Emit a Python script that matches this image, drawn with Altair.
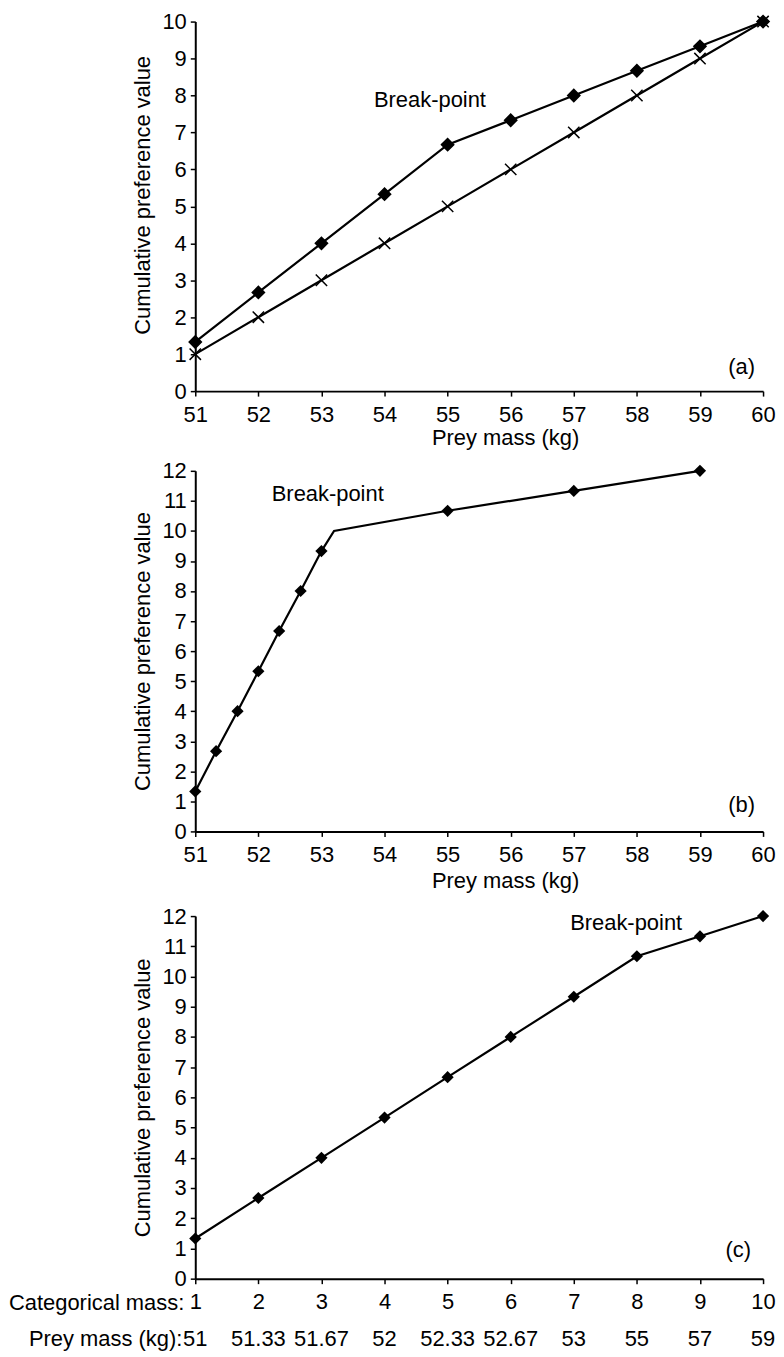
import altair as alt
import pandas as pd

# ---------------- data ----------------
# Panel (a)
a_mass = [51, 52, 53, 54, 55, 56, 57, 58, 59, 60]
a_pref = [1.33, 2.67, 4.0, 5.33, 6.67, 7.33, 8.0, 8.67, 9.33, 10.0]
a_linear = [1, 2, 3, 4, 5, 6, 7, 8, 9, 10]

# Panel (b)
b_mass = [51, 51.33, 51.67, 52, 52.33, 52.67, 53, 53.2, 55, 57, 59]
b_pref = [1.33, 2.67, 4.0, 5.33, 6.67, 8.0, 9.33, 10.0, 10.67, 11.33, 12.0]
b_marker = [True, True, True, True, True, True, True, False, True, True, True]

# Panel (c)
c_cat = [1, 2, 3, 4, 5, 6, 7, 8, 9, 10]
c_pref = [1.33, 2.67, 4.0, 5.33, 6.67, 8.0, 9.33, 10.67, 11.33, 12.0]
c_mass_labels = ["51", "51.33", "51.67", "52", "52.33", "52.67", "53", "55", "57", "59"]

x_ticks_mass = [51, 52, 53, 54, 55, 56, 57, 58, 59, 60]
y_ticks_10 = list(range(0, 11))
y_ticks_12 = list(range(0, 13))

# annotation anchors (data coordinates)
bp_a = (54.72, 7.88)
bp_b = (53.1, 11.24)
bp_c = (7.83, 11.77)

# ---------------- style ----------------
FONT = "Liberation Sans"
FS = 22
W = 570
HA, HB, HC = 371, 362, 364
X_SHAPE = "M-1,-1L1,1M1,-1L-1,1"
YTITLE = "Cumulative preference value"
DSIZE = 150


def y_axis(values, **kw):
    return alt.Axis(values=values, tickCount=len(values), format="d", title=YTITLE,
                    labelPadding=4, titlePadding=7, labelOverlap=False,
                    labelFontSize=FS, titleFontSize=FS, **kw)


def x_axis_mass(title_pad=3):
    return alt.Axis(values=x_ticks_mass, tickCount=len(x_ticks_mass), format="d",
                    title="Prey mass (kg)", labelPadding=8, titlePadding=title_pad,
                    titleX=311, labelFlush=False, labelOverlap=False,
                    labelFontSize=FS, titleFontSize=FS)


def text_mark(**kw):
    return alt.Chart().mark_text(font=FONT, fontSize=FS, color="black", **kw)


# ---------------- panel (a) ----------------
df_a = pd.DataFrame({
    "mass": a_mass * 2,
    "pref": a_pref + a_linear,
    "series": ["observed"] * len(a_mass) + ["linear"] * len(a_mass),
})
xa = alt.X("mass:Q", scale=alt.Scale(domain=[51, 60], nice=False, zero=False),
           axis=x_axis_mass())
ya = alt.Y("pref:Q", scale=alt.Scale(domain=[0, 10], nice=False),
           axis=y_axis(y_ticks_10, titleY=174))
base_a = alt.Chart(df_a)
lines_a = base_a.mark_line(color="black", strokeWidth=2.2).encode(
    x=xa, y=ya, detail="series:N")
pts_a = base_a.mark_point(filled=True, color="black", stroke="black",
                          strokeWidth=1.5, opacity=1).encode(
    x=xa, y=ya,
    shape=alt.Shape("series:N", legend=None,
                    scale=alt.Scale(domain=["observed", "linear"],
                                    range=["diamond", X_SHAPE])),
    size=alt.Size("series:N", legend=None,
                  scale=alt.Scale(domain=["observed", "linear"], range=[DSIZE, 130])),
)
bp_a_txt = text_mark().encode(x=alt.datum(bp_a[0]), y=alt.datum(bp_a[1]),
                              text=alt.value("Break-point"))
lab_a = text_mark(align="right").encode(x=alt.value(W - 8), y=alt.value(HA - 24),
                                        text=alt.value("(a)"))
panel_a = alt.layer(lines_a, pts_a, bp_a_txt, lab_a).properties(width=W, height=HA)

# ---------------- panel (b) ----------------
df_b = pd.DataFrame({"mass": b_mass, "pref": b_pref, "marker": b_marker})
xb = alt.X("mass:Q", scale=alt.Scale(domain=[51, 60], nice=False, zero=False),
           axis=x_axis_mass(title_pad=5))
yb = alt.Y("pref:Q", scale=alt.Scale(domain=[0, 12], nice=False),
           axis=y_axis(y_ticks_12))
base_b = alt.Chart(df_b)
lines_b = base_b.mark_line(color="black", strokeWidth=2.2).encode(x=xb, y=yb)
pts_b = base_b.transform_filter("datum.marker").mark_point(
    shape="diamond", filled=True, color="black", size=DSIZE, opacity=1).encode(x=xb, y=yb)
bp_b_txt = text_mark().encode(x=alt.datum(bp_b[0]), y=alt.datum(bp_b[1]),
                              text=alt.value("Break-point"))
lab_b = text_mark(align="right").encode(x=alt.value(W - 8), y=alt.value(HB - 26),
                                        text=alt.value("(b)"))
panel_b = alt.layer(lines_b, pts_b, bp_b_txt, lab_b).properties(width=W, height=HB)

# ---------------- panel (c) ----------------
df_c = pd.DataFrame({"cat": c_cat, "pref": c_pref, "mass_label": c_mass_labels})
xc = alt.X("cat:Q", scale=alt.Scale(domain=[1, 10], nice=False, zero=False),
           axis=alt.Axis(values=c_cat, tickCount=len(c_cat), format="d", title=None,
                         labelPadding=8, labelFlush=False, labelOverlap=False,
                         labelFontSize=FS))
yc = alt.Y("pref:Q", scale=alt.Scale(domain=[0, 12], nice=False),
           axis=y_axis(y_ticks_12))
base_c = alt.Chart(df_c)
lines_c = base_c.mark_line(color="black", strokeWidth=2.2).encode(x=xc, y=yc)
pts_c = base_c.mark_point(shape="diamond", filled=True, color="black", size=DSIZE,
                          opacity=1).encode(x=xc, y=yc)
row2_c = base_c.mark_text(font=FONT, fontSize=FS, color="black").encode(
    x=xc, y=alt.value(HC + 61), text="mass_label:N")
cat_lbl = text_mark(align="right").encode(x=alt.value(-11), y=alt.value(HC + 24),
                                          text=alt.value("Categorical mass:"))
mass_lbl = text_mark(align="right").encode(x=alt.value(-13), y=alt.value(HC + 61),
                                           text=alt.value("Prey mass (kg):"))
bp_c_txt = text_mark().encode(x=alt.datum(bp_c[0]), y=alt.datum(bp_c[1]),
                              text=alt.value("Break-point"))
lab_c = text_mark(align="right").encode(x=alt.value(W - 12), y=alt.value(HC - 29),
                                        text=alt.value("(c)"))
# invisible spacer text to give a little extra room above panel (c)
spacer_c = text_mark(opacity=0).encode(x=alt.value(0), y=alt.value(-3),
                                       text=alt.value("."))
panel_c = alt.layer(lines_c, pts_c, row2_c, cat_lbl, mass_lbl, bp_c_txt, lab_c,
                    spacer_c).properties(width=W, height=HC)

chart = alt.vconcat(panel_a, panel_b, panel_c, spacing=11).properties(
    padding={"top": 0, "left": 0, "right": 0, "bottom": 0}
).configure_view(stroke=None).configure_axis(
    domainColor="black", domainWidth=2, tickColor="black", tickWidth=1.5, tickSize=5,
    labelFont=FONT, labelFontSize=FS, labelColor="black",
    titleFont=FONT, titleFontSize=FS, titleFontWeight="normal", titleColor="black",
    grid=False,
).configure_text(font=FONT)

chart.save("out.html", embed_options={"renderer": "svg", "actions": False})
